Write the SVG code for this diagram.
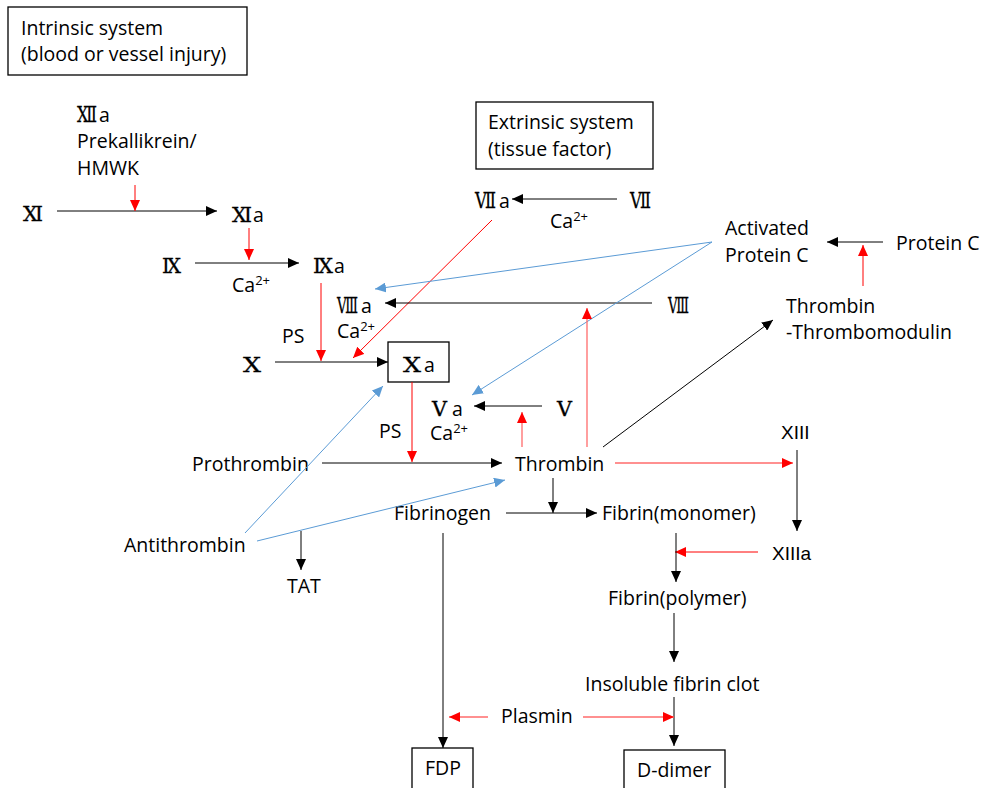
<svg xmlns="http://www.w3.org/2000/svg" width="981" height="788" viewBox="0 0 981 788">
<style>
.t{font-family:"Open Sans",Lato,"Liberation Sans",sans-serif;font-size:19.5px;fill:#000}
.r{font-family:"DejaVu Serif","Noto Sans CJK JP",serif;font-size:21px;fill:#000;stroke:#000;stroke-width:0.3}
.r2{font-size:23px}
.s{font-size:13px}
.x{font-family:"Liberation Sans",sans-serif;font-size:19px}
.box{fill:#fff;stroke:#000;stroke-width:1.3}
.k{stroke:#000;stroke-width:1;fill:none}
.red{stroke:#ff0000;stroke-width:1;fill:none}
.pink{stroke:#ff6b6b;stroke-width:1.3;fill:none}
.blue{stroke:#5b9bd5;stroke-width:1;fill:none}
</style>
<defs>
<marker id="ak" markerUnits="userSpaceOnUse" markerWidth="11" markerHeight="10" refX="11" refY="5" orient="auto"><path d="M0,0 L11,5 L0,10 z" fill="#000"/></marker>
<marker id="ar" markerUnits="userSpaceOnUse" markerWidth="11" markerHeight="10" refX="11" refY="5" orient="auto"><path d="M0,0 L11,5 L0,10 z" fill="#ff0000"/></marker>
<marker id="ab" markerUnits="userSpaceOnUse" markerWidth="11" markerHeight="10" refX="11" refY="5" orient="auto"><path d="M0,0 L11,5 L0,10 z" fill="#5b9bd5"/></marker>
</defs>
<rect width="981" height="788" fill="#fff"/>

<g id="intrinsic"><rect class="box" x="8" y="7" width="239" height="68"/><text class="t" x="21" y="35">Intrinsic system</text><text class="t" x="21" y="61">(blood or vessel injury)</text></g>
<g id="extrinsic"><rect class="box" x="476" y="102" width="177" height="67"/><text class="t" x="488" y="129">Extrinsic system</text><text class="t" x="488" y="156">(tissue factor)</text></g>

<g id="n-XIIa"><text class="r r2" x="77" y="122" textLength="20" lengthAdjust="spacingAndGlyphs">Ⅻ</text><text class="t" x="99" y="122">a</text><text class="t" x="77" y="148">Prekallikrein/</text><text class="t" x="77" y="175">HMWK</text></g>
<g id="n-XI"><text class="r" x="23" y="221" textLength="20" lengthAdjust="spacingAndGlyphs">Ⅺ</text></g>
<g id="n-XIa"><text class="r" x="232" y="222" textLength="20" lengthAdjust="spacingAndGlyphs">Ⅺ</text><text class="t" x="253" y="222">a</text></g>
<g id="n-IX"><text class="r" x="162" y="273" textLength="19" lengthAdjust="spacingAndGlyphs">Ⅸ</text></g>
<g id="n-IXa"><text class="r" x="313" y="273" textLength="20" lengthAdjust="spacingAndGlyphs">Ⅸ</text><text class="t" x="334" y="273">a</text></g>
<g id="n-Ca1"><text class="t" x="232" y="292">Ca<tspan class="s" dy="-7">2+</tspan></text></g>
<g id="n-VIIa"><text class="r r2" x="475" y="208" textLength="21" lengthAdjust="spacingAndGlyphs">Ⅶ</text><text class="t" x="499" y="208">a</text></g>
<g id="n-VII"><text class="r r2" x="630" y="208" textLength="21" lengthAdjust="spacingAndGlyphs">Ⅶ</text></g>
<g id="n-Ca2"><text class="t" x="550" y="228">Ca<tspan class="s" dy="-7">2+</tspan></text></g>
<g id="n-APC"><text class="t" x="725" y="235">Activated</text><text class="t" x="725" y="262">Protein C</text></g>
<g id="n-PC"><text class="t" x="896" y="250">Protein C</text></g>
<g id="n-TTM"><text class="t" x="786" y="313">Thrombin</text><text class="t" x="786" y="339">-Thrombomodulin</text></g>
<g id="n-VIIIa"><text class="r r2" x="337" y="313" textLength="21" lengthAdjust="spacingAndGlyphs">Ⅷ</text><text class="t" x="361" y="313">a</text><text class="t" x="337" y="338">Ca<tspan class="s" dy="-7">2+</tspan></text></g>
<g id="n-VIII"><text class="r r2" x="668" y="313" textLength="21" lengthAdjust="spacingAndGlyphs">Ⅷ</text></g>
<g id="n-PS1"><text class="t" x="282" y="343">PS</text></g>
<g id="n-X"><text class="r" x="243" y="372" textLength="18" lengthAdjust="spacingAndGlyphs">Ⅹ</text></g>
<g id="n-Xa"><rect class="box" x="388" y="342" width="61" height="40" stroke-width="1.6"/><text class="r" x="403" y="372" textLength="18" lengthAdjust="spacingAndGlyphs">Ⅹ</text><text class="t" x="424" y="372">a</text></g>
<g id="n-Va"><text class="r" x="432" y="416" textLength="15" lengthAdjust="spacingAndGlyphs">Ⅴ</text><text class="t" x="452" y="416">a</text><text class="t" x="430" y="440">Ca<tspan class="s" dy="-7">2+</tspan></text></g>
<g id="n-V"><text class="r" x="557" y="416" textLength="15" lengthAdjust="spacingAndGlyphs">Ⅴ</text></g>
<g id="n-PS2"><text class="t" x="379" y="438">PS</text></g>
<g id="n-Prothrombin"><text class="t" x="192" y="471">Prothrombin</text></g>
<g id="n-Thrombin"><text class="t" x="515" y="471">Thrombin</text></g>
<g id="n-XIII"><text class="x" x="781" y="439">XIII</text></g>
<g id="n-Fibrinogen"><text class="t" x="394" y="520">Fibrinogen</text></g>
<g id="n-FibrinM"><text class="t" x="602" y="520">Fibrin(monomer)</text></g>
<g id="n-Antithrombin"><text class="t" x="124" y="552">Antithrombin</text></g>
<g id="n-XIIIa"><text class="x" x="772" y="560">XIIIa</text></g>
<g id="n-TAT"><text class="t" x="287" y="593">TAT</text></g>
<g id="n-FibrinP"><text class="t" x="608" y="605">Fibrin(polymer)</text></g>
<g id="n-Clot"><text class="t" x="585" y="691">Insoluble fibrin clot</text></g>
<g id="n-Plasmin"><text class="t" x="501" y="723">Plasmin</text></g>
<g id="n-FDP"><rect class="box" x="412" y="748" width="61" height="42"/><text class="t" x="425" y="775">FDP</text></g>
<g id="n-Ddimer"><rect class="box" x="624" y="750" width="101" height="42"/><text class="t" x="637" y="777">D-dimer</text></g>

<g id="connectors">
<line class="k" x1="57" y1="211" x2="217" y2="211" marker-end="url(#ak)"/>
<line class="red" x1="135" y1="185" x2="135" y2="211" marker-end="url(#ar)"/>
<line class="red" x1="249" y1="228" x2="249" y2="260" marker-end="url(#ar)"/>
<line class="k" x1="195" y1="263" x2="299" y2="263" marker-end="url(#ak)"/>
<line class="red" x1="321" y1="283" x2="321" y2="361" marker-end="url(#ar)"/>
<line class="k" x1="275" y1="362" x2="388" y2="362" marker-end="url(#ak)"/>
<line class="k" x1="617" y1="199" x2="512" y2="199" marker-end="url(#ak)"/>
<line class="red" x1="492" y1="220" x2="353" y2="358" marker-end="url(#ar)"/>
<line class="k" x1="652" y1="303" x2="385" y2="303" marker-end="url(#ak)"/>
<line class="blue" x1="712" y1="242" x2="375" y2="289" marker-end="url(#ab)"/>
<line class="blue" x1="712" y1="242" x2="472" y2="395" marker-end="url(#ab)"/>
<line class="k" x1="883" y1="242" x2="827" y2="242" marker-end="url(#ak)"/>
<line class="red" x1="863" y1="286" x2="863" y2="245" marker-end="url(#ar)"/>
<line class="k" x1="603" y1="447" x2="773" y2="320" marker-end="url(#ak)"/>
<line class="k" x1="542" y1="406" x2="474" y2="406" marker-end="url(#ak)"/>
<line class="pink" x1="522" y1="447" x2="522" y2="412" marker-end="url(#ar)"/>
<line class="pink" x1="587" y1="447" x2="587" y2="308" marker-end="url(#ar)"/>
<line class="red" x1="412" y1="382" x2="412" y2="462" marker-end="url(#ar)"/>
<line class="k" x1="322" y1="463" x2="502" y2="463" marker-end="url(#ak)"/>
<line class="blue" x1="245" y1="533" x2="383" y2="386" marker-end="url(#ab)"/>
<line class="blue" x1="257" y1="541" x2="505" y2="480" marker-end="url(#ab)"/>
<line class="k" x1="301" y1="531" x2="301" y2="570" marker-end="url(#ak)"/>
<line class="k" x1="506" y1="513" x2="597" y2="513" marker-end="url(#ak)"/>
<line class="k" x1="553" y1="478" x2="553" y2="513" marker-end="url(#ak)"/>
<line class="k" x1="443" y1="533" x2="443" y2="748" marker-end="url(#ak)"/>
<line class="pink" x1="615" y1="463" x2="793" y2="463" marker-end="url(#ar)"/>
<line class="k" x1="797" y1="450" x2="797" y2="531" marker-end="url(#ak)"/>
<line class="red" x1="758" y1="552" x2="675" y2="552" marker-end="url(#ar)"/>
<line class="k" x1="676" y1="533" x2="676" y2="582" marker-end="url(#ak)"/>
<line class="k" x1="674" y1="613" x2="674" y2="662" marker-end="url(#ak)"/>
<line class="k" x1="674" y1="697" x2="674" y2="746" marker-end="url(#ak)"/>
<line class="pink" x1="488" y1="717" x2="449" y2="717" marker-end="url(#ar)"/>
<line class="pink" x1="583" y1="717" x2="674" y2="717" marker-end="url(#ar)"/>
</g>
</svg>
